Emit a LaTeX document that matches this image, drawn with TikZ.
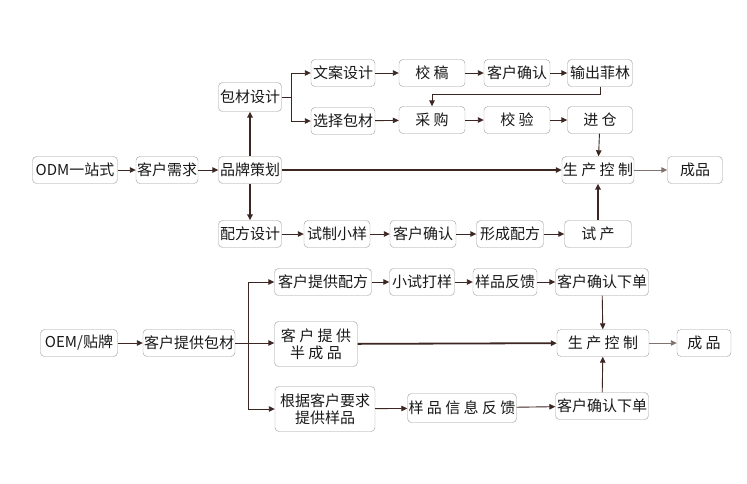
\documentclass[tikz,border=0pt]{standalone}
\usepackage{fontspec}
\setmainfont{Noto Sans CJK SC}
\usetikzlibrary{arrows.meta, positioning, calc}
\definecolor{lineBrown}{HTML}{3B2622}
\definecolor{boxGray}{HTML}{9C9C9C}
\tikzset{
    >={Triangle[length=6pt, width=5.5pt]},
    % Boxes
    box/.style={rectangle, draw=boxGray, fill=white, rounded corners=4pt,
                minimum height=27pt, inner xsep=1pt, inner ysep=1pt, align=center,
                font=\fontsize{15}{17}\selectfont, text=black!90},
    tallbox/.style={box, minimum height=45pt},
    % Connectors
    flow/.style={->, lineBrown, line width=0.9pt},
    flowThick/.style={flow, line width=1.8pt},
    flowLight/.style={flow, draw=lineBrown!65}
}

\begin{document}
\begin{tikzpicture}[x=1pt, y=-1pt]
\useasboundingbox (0,0) rectangle (747,483);

% ODM
\node[box, minimum width=85pt] (odm) at (75,170) {ODM一站式};
\node[box, minimum width=61pt] (need) at (167,170) {客户需求};
\node[box, minimum width=63pt] (brand) at (250,170) {品牌策划};
\node[box, minimum width=63pt, minimum height=29pt] (pack) at (250,97) {包材设计};
\node[box, minimum width=64pt] (copy) at (343,73) {文案设计};
\node[box, minimum width=64pt] (choose) at (343,121) {选择包材};
\node[box, minimum width=66pt] (proof) at (432,73) {校 稿};
\node[box, minimum width=66pt] (confA) at (517,73) {客户确认};
\node[box, minimum width=65pt] (film) at (600,73) {输出菲林};
\node[box, minimum width=66pt] (buy) at (432,120) {采 购};
\node[box, minimum width=66pt] (check) at (517,120) {校 验};
\node[box, minimum width=65pt] (store) at (600,120) {进 仓};
\node[box, minimum width=70pt] (prod) at (598,170) {生 产 控 制};
\node[box, minimum width=55pt] (done) at (695,170) {成品};
\node[box, minimum width=63pt] (formula) at (250,234) {配方设计};
\node[box, minimum width=66pt] (sample) at (337,234) {试制小样};
\node[box, minimum width=66pt] (confB) at (423,234) {客户确认};
\node[box, minimum width=67pt] (form) at (510,234) {形成配方};
\node[box, minimum width=67pt] (trial) at (598,234) {试 产};

\draw[flow] (odm) -- (need);
\draw[flow] (need) -- (brand);
\draw[flowThick] (brand) -- (pack);
\draw[flowThick] (brand) -- (formula);
\coordinate (pb) at ($(pack.east)+(10,0)$);
\draw[lineBrown, line width=0.9pt] (pack.east) -- (pb);
\draw[flow] (pb) |- (copy);
\draw[flow] (pb) |- (choose);
\draw[flow] (copy) -- (proof);
\draw[flow] (proof) -- (confA);
\draw[flow] (confA) -- (film);
\draw[flow] (film.south) -- ++(0,8) -| (buy.north);
\draw[flow] (choose) -- (buy);
\draw[flow] (buy) -- (check);
\draw[flow] (check) -- (store);
\draw[flow] (store) -- (prod);
\draw[flowThick] (brand) -- (prod);
\draw[flowLight] (prod) -- (done);
\draw[flow] (formula) -- (sample);
\draw[flow] (sample) -- (confB);
\draw[flow] (confB) -- (form);
\draw[flow] (form) -- (trial);
\draw[flowThick] (trial) -- (prod);

% OEM
\node[box, minimum width=77pt] (oem) at (79,343) {OEM/贴牌};
\node[box, minimum width=92pt] (give) at (189,343) {客户提供包材};
\node[box, minimum width=97pt] (giveF) at (323,282) {客户提供配方};
\node[tallbox, minimum width=83pt] (semi) at (316,344) {客 户 提 供\\半 成 品};
\node[tallbox, minimum width=100pt] (byreq) at (325,409) {根据客户要求\\提供样品};
\node[box, minimum width=65pt] (small) at (422,282) {小试打样};
\node[box, minimum width=64pt] (fb) at (505,282) {样品反馈};
\node[box, minimum width=93pt] (ordA) at (602,282) {客户确认下单};
\node[box, minimum width=92pt] (prodB) at (603,343) {生 产 控 制};
\node[box, minimum width=54pt] (doneB) at (704,343) {成 品};
\node[box, minimum width=109pt, minimum height=29pt] (info) at (462,408) {样 品 信 息 反 馈};
\node[box, minimum width=93pt] (ordB) at (602,406) {客户确认下单};

\draw[flow] (oem) -- (give);
\draw[flow] (give.east) -- (semi.west |- give.east);
\coordinate (gb) at ($(give.east)+(13,0)$);
\draw[flow] (gb) |- (giveF);
\draw[flow] (gb) |- (byreq);
\draw[flow] (giveF) -- (small);
\draw[flow] (small) -- (fb);
\draw[flow] (fb) -- (ordA);
\draw[flow] (ordA) -- (prodB);
\draw[flowThick] (semi) -- (prodB);
\draw[flow] (byreq) -- (info);
\draw[flow] (info) -- (ordB);
\draw[flow] (ordB) -- (prodB);
\draw[flowLight] (prodB) -- (doneB);

\end{tikzpicture}
\end{document}
